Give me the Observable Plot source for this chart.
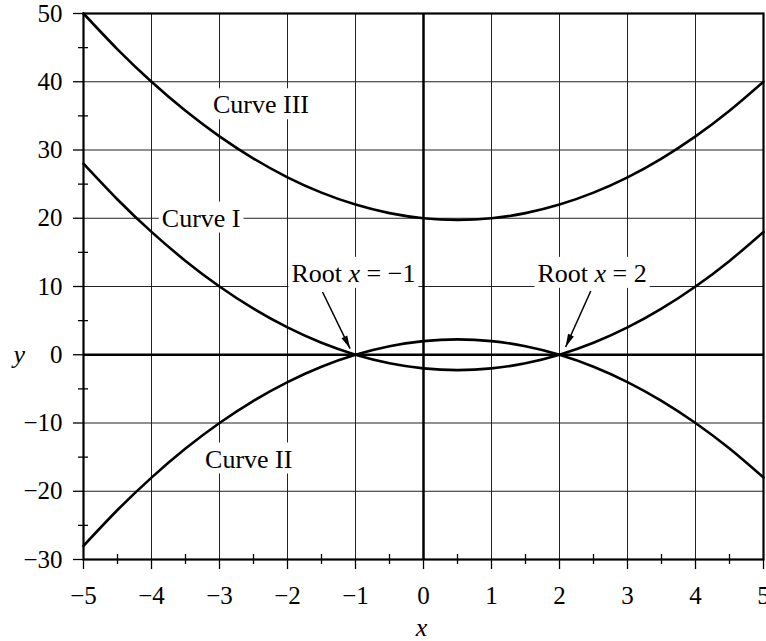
<!DOCTYPE html>
<html>
<head>
<meta charset="utf-8">
<script src="https://cdn.jsdelivr.net/npm/d3@7"></script>
<script src="https://cdn.jsdelivr.net/npm/@observablehq/plot@0.6"></script>
<style>
  body { margin: 0; background: #fff; }
  svg text { font-family: 'Liberation Serif', 'Times New Roman', serif; }
</style>
</head>
<body>
<div id="chart"></div>
<script>
// Sample points of the three parabolas (x from -5 to 5 in steps of 0.5)
const xValues = [-5, -4.5, -4, -3.5, -3, -2.5, -2, -1.5, -1, -0.5, 0, 0.5, 1, 1.5, 2, 2.5, 3, 3.5, 4, 4.5, 5];
const curveI = [28, 22.75, 18, 13.75, 10, 6.75, 4, 1.75, 0, -1.25, -2, -2.25, -2, -1.25, 0, 1.75, 4, 6.75, 10, 13.75, 18];
const curveII = [-28, -22.75, -18, -13.75, -10, -6.75, -4, -1.75, 0, 1.25, 2, 2.25, 2, 1.25, 0, -1.75, -4, -6.75, -10, -13.75, -18];
const curveIII = [50, 44.75, 40, 35.75, 32, 28.75, 26, 23.75, 22, 20.75, 20, 19.75, 20, 20.75, 22, 23.75, 26, 28.75, 32, 35.75, 40];
const seriesNames = ["Curve I", "Curve II", "Curve III"];

// Axis ticks
const xTicks = [-5, -4, -3, -2, -1, 0, 1, 2, 3, 4, 5];
const xMinorTicks = [-4.5, -3.5, -2.5, -1.5, -0.5, 0.5, 1.5, 2.5, 3.5, 4.5];
const yTicks = [-30, -20, -10, 0, 10, 20, 30, 40, 50];
const yMinorTicks = [-25, -15, -5, 5, 15, 25, 35, 45];
const xGrid = [-4, -3, -2, -1, 1, 2, 3, 4];
const yGrid = [-20, -10, 10, 20, 30, 40];

// Curve names placed beside their curves
const curveLabelX = [-3.27, -2.57, -2.39];
const curveLabelY = [20, -15.3, 36.6];

// Roots, with callout text and arrow tails
const rootLabels = ["Root x = \u22121", "Root x = 2"];
const rootX = [-1, 2];
const rootLabelX = [-1.03, 2.48];
const rootLabelY = [11.9, 11.9];
const arrowTailX = [-1.485, 2.46];
const arrowTailY = [9.2, 9.35];
const arrowTipX = [-1.08, 2.09];
const arrowTipY = [0.9, 1.14];

const seriesValues = [curveI, curveII, curveIII];
const points = seriesNames.flatMap((name, s) =>
  xValues.map((x, i) => ({series: name, x, y: seriesValues[s][i]}))
);
const curveLabels = seriesNames.map((name, i) => ({name, x: curveLabelX[i], y: curveLabelY[i]}));
const rootCallouts = rootLabels.map((text, i) => ({text, root: rootX[i], x: rootLabelX[i], y: rootLabelY[i]}));
const arrows = rootX.map((r, i) => ({x1: arrowTailX[i], y1: arrowTailY[i], x2: arrowTipX[i], y2: arrowTipY[i]}));

const serif = "'Liberation Serif', 'Times New Roman', serif";
const fmt = d3.format("d");

const svg = Plot.plot({
  width: 766,
  height: 641,
  marginLeft: 83,
  marginRight: 3,
  marginTop: 13,
  marginBottom: 82,
  style: {fontFamily: serif, fontSize: "25px", background: "white", color: "black"},
  x: {domain: [-5, 5], label: null},
  y: {domain: [-30, 50], label: null},
  marks: [
    Plot.gridX(xGrid, {stroke: "#222", strokeOpacity: 1, strokeWidth: 1}),
    Plot.gridY(yGrid, {stroke: "#222", strokeOpacity: 1, strokeWidth: 1}),
    Plot.ruleX([0], {stroke: "black", strokeWidth: 2.5}),
    Plot.ruleY([0], {stroke: "black", strokeWidth: 2.5}),
    Plot.text(curveLabels, {x: "x", y: "y", text: "name", fontFamily: serif, fontSize: 26, fill: "black", ariaDescription: "boxed-label"}),
    Plot.text(rootCallouts, {x: "x", y: "y", text: "text", fontFamily: serif, fontSize: 26, fill: "black", ariaDescription: "boxed-label"}),
    Plot.line(points, {x: "x", y: "y", z: "series", curve: "natural", stroke: "black", strokeWidth: 2.6}),
    Plot.link(arrows, {x1: "x1", y1: "y1", x2: "x2", y2: "y2", stroke: "black", strokeWidth: 1.5, ariaDescription: "callout-arrow"}),
    Plot.frame({stroke: "black", strokeWidth: 2.2}),
    Plot.axisX(xTicks, {tickSize: 10, tickPadding: 17, strokeWidth: 1.3, tickFormat: fmt, fontFamily: serif, fontSize: 25, label: null}),
    Plot.axisX(xMinorTicks, {tickSize: 10, dy: -5, strokeWidth: 1.3, tickFormat: () => "", label: null}),
    Plot.axisY(yTicks, {tickSize: 10, tickPadding: 11, strokeWidth: 1.3, tickFormat: fmt, fontFamily: serif, fontSize: 25, label: null}),
    Plot.axisY(yMinorTicks, {tickSize: 10, dx: 5, strokeWidth: 1.3, tickFormat: () => "", label: null}),
    Plot.text(["x"], {frameAnchor: "bottom", dy: 76, dx: -2, text: d => d, fontFamily: serif, fontSize: 26, fontStyle: "italic", fill: "black"}),
    Plot.text([0], {y: d => d, frameAnchor: "left", dx: -70, text: () => "y", fontFamily: serif, fontSize: 26, fontStyle: "italic", fill: "black"})
  ]
});

document.getElementById("chart").append(svg);

const root = d3.select(svg);

// Italic variable name inside the root callouts
root.selectAll('g[aria-description="boxed-label"] text').each(function () {
  const s = this.textContent;
  const k = s.indexOf(" x ");
  if (k < 0) return;
  const t = d3.select(this);
  t.text(null);
  t.append("tspan").text(s.slice(0, k) + " ");
  t.append("tspan").attr("font-style", "italic").text("x");
  t.append("tspan").text(" " + s.slice(k + 3));
});

// White boxes behind the labels so grid lines stop at the text
root.selectAll('g[aria-description="boxed-label"] text').each(function () {
  const b = this.getBBox();
  const r = document.createElementNS("http://www.w3.org/2000/svg", "rect");
  r.setAttribute("x", b.x - 3);
  r.setAttribute("y", b.y - 2);
  r.setAttribute("width", b.width + 6);
  r.setAttribute("height", b.height + 2);
  r.setAttribute("fill", "white");
  r.setAttribute("stroke", "none");
  const tr = this.getAttribute("transform");
  if (tr) r.setAttribute("transform", tr);
  this.parentNode.insertBefore(r, this);
});

// Filled arrowheads at the end of each callout link
root.selectAll('g[aria-description="callout-arrow"] path').each(function () {
  const n = (this.getAttribute("d").match(/-?\d*\.?\d+(e-?\d+)?/g) || []).map(Number);
  if (n.length < 4) return;
  const x1 = n[0], y1 = n[1], x2 = n[n.length - 2], y2 = n[n.length - 1];
  const a = Math.atan2(y2 - y1, x2 - x1);
  const len = 13, half = 3.2;
  const bx = x2 - len * Math.cos(a), by = y2 - len * Math.sin(a);
  const px = -Math.sin(a) * half, py = Math.cos(a) * half;
  const head = document.createElementNS("http://www.w3.org/2000/svg", "path");
  head.setAttribute("d", `M${x2},${y2}L${bx + px},${by + py}L${bx - px},${by - py}Z`);
  head.setAttribute("fill", "black");
  head.setAttribute("stroke", "none");
  const tr = this.getAttribute("transform");
  if (tr) head.setAttribute("transform", tr);
  this.parentNode.appendChild(head);
});
</script>
</body>
</html>
